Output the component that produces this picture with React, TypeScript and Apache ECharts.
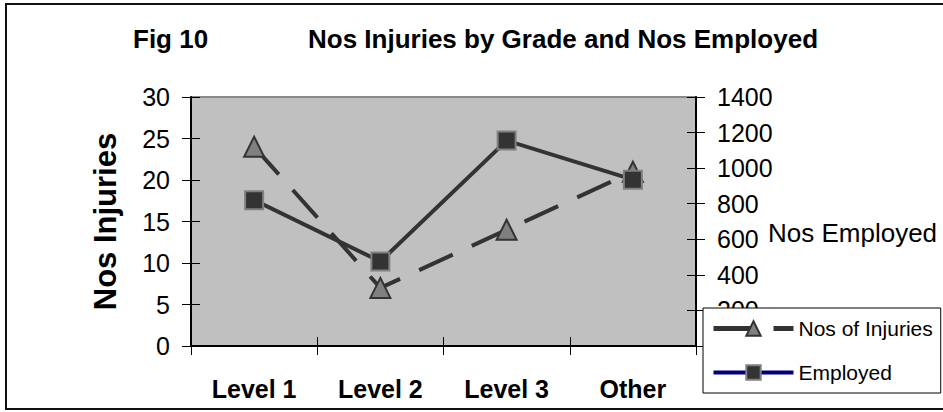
import React, { useEffect, useRef } from "react";
import * as echarts from "echarts";

const categories = ["Level 1", "Level 2", "Level 3", "Other"];
const injuries = [24, 7, 14, 21];
const employed = [820, 475, 1155, 935];
const leftAxis = { min: 0, max: 30, interval: 5 };
const rightAxis = { min: 0, max: 1400, interval: 200 };

const FONT = "'Liberation Sans', Arial, sans-serif";

export default function App() {
  const ref = useRef<HTMLDivElement>(null);
  useEffect(() => {
    if (!ref.current) return;
    const chart = echarts.init(ref.current, undefined, { renderer: "svg" });
    const tickLabel = { color: "#000", fontSize: 25, fontFamily: FONT };
    chart.setOption({
      animation: false,
      backgroundColor: "#fff",
      title: [
        {
          text: "Fig 10",
          left: 128,
          top: 21,
          textStyle: { fontSize: 26, fontWeight: "bold", fontFamily: FONT, color: "#000" },
        },
        {
          text: "Nos Injuries by Grade and Nos Employed",
          left: 303,
          top: 21,
          textStyle: { fontSize: 26, fontWeight: "bold", fontFamily: FONT, color: "#000" },
        },
      ],
      graphic: [
        {
          type: "rect",
          shape: { x: 6, y: 4, width: 960, height: 405 },
          style: { fill: "none", stroke: "#111", lineWidth: 2 },
          silent: true,
          z: 100,
        },
      ],
      grid: {
        left: 191,
        right: 247,
        top: 97,
        bottom: 66,
        containLabel: false,
        outerBoundsMode: "none",
        show: true,
        backgroundColor: "#C0C0C0",
        borderColor: "#8a8a8a",
        borderWidth: 2,
      },
      legend: {
        orient: "vertical",
        left: 703,
        top: 308,
        padding: [10, 8, 10, 8],
        itemGap: 23,
        itemWidth: 80,
        itemHeight: 18,
        backgroundColor: "#fff",
        borderColor: "#000",
        borderWidth: 1,
        borderRadius: 0,
        textStyle: { fontSize: 21, fontFamily: FONT, color: "#000" },
        data: [
          { name: "Nos of Injuries", lineStyle: { type: [43, 17], color: "#333", width: 5 } },
          { name: "Employed", lineStyle: { type: "solid", color: "#000080", width: 4 } },
        ],
      },
      xAxis: [
        {
          type: "category",
          data: categories,
          position: "bottom",
          boundaryGap: true,
          axisLine: { lineStyle: { color: "#000", width: 2 } },
          axisTick: { show: true, length: 9, lineStyle: { color: "#000", width: 1 } },
          axisLabel: { ...tickLabel, fontWeight: "bold", margin: 30 },
          splitLine: { show: false },
        },
        {
          type: "category",
          data: categories,
          position: "bottom",
          boundaryGap: true,
          axisLine: { show: false },
          axisTick: { show: true, inside: true, length: 9, lineStyle: { color: "#000", width: 1 } },
          axisLabel: { show: false },
          splitLine: { show: false },
        },
      ],
      yAxis: [
        {
          type: "value",
          position: "left",
          ...leftAxis,
          name: "Nos Injuries",
          nameLocation: "middle",
          nameGap: 70,
          nameRotate: 90,
          nameMoveOverlap: false,
          nameTextStyle: { fontSize: 31, fontWeight: "bold", fontFamily: FONT, color: "#000" },
          axisLine: { show: true, lineStyle: { color: "#000", width: 2 } },
          axisTick: { show: true, length: 9, lineStyle: { color: "#000", width: 1 } },
          axisLabel: { ...tickLabel, margin: 21 },
          splitLine: { show: false },
        },
        {
          type: "value",
          position: "right",
          ...rightAxis,
          name: "Nos Employed",
          nameLocation: "middle",
          nameGap: 72,
          nameRotate: 0,
          nameMoveOverlap: false,
          nameTextStyle: {
            fontSize: 26,
            fontFamily: FONT,
            color: "#000",
            align: "left",
            verticalAlign: "top",
            lineHeight: 22,
          },
          axisLine: { show: true, lineStyle: { color: "#000", width: 2 } },
          axisTick: { show: true, length: 9, lineStyle: { color: "#000", width: 1 } },
          axisLabel: { ...tickLabel, margin: 21, formatter: (v: number) => String(v) },
          splitLine: { show: false },
        },
        {
          type: "value",
          position: "left",
          ...leftAxis,
          axisLine: { show: false },
          axisTick: { show: true, inside: true, length: 9, lineStyle: { color: "#000", width: 1 } },
          axisLabel: { show: false },
          splitLine: { show: false },
        },
        {
          type: "value",
          position: "right",
          ...rightAxis,
          axisLine: { show: false },
          axisTick: { show: true, inside: true, length: 9, lineStyle: { color: "#000", width: 1 } },
          axisLabel: { show: false },
          splitLine: { show: false },
        },
      ],
      series: [
        {
          name: "Nos of Injuries",
          type: "line",
          xAxisIndex: 0,
          yAxisIndex: 0,
          data: injuries,
          symbol: "triangle",
          symbolSize: 20,
          showAllSymbol: true,
          lineStyle: { color: "#333", width: 4, type: [37, 21] },
          itemStyle: { color: "#808080", borderColor: "#333", borderWidth: 2 },
          z: 2,
        },
        {
          name: "Employed",
          type: "line",
          xAxisIndex: 0,
          yAxisIndex: 1,
          data: employed,
          symbol: "rect",
          symbolSize: 18,
          showAllSymbol: true,
          lineStyle: { color: "#333", width: 4, type: "solid" },
          itemStyle: { color: "#333", borderColor: "#808080", borderWidth: 2 },
          z: 3,
        },
      ],
    });
    return () => chart.dispose();
  }, []);
  return (
    <div
      ref={ref}
      style={{ position: "fixed", left: 0, top: 0, width: 943, height: 412 }}
    />
  );
}
